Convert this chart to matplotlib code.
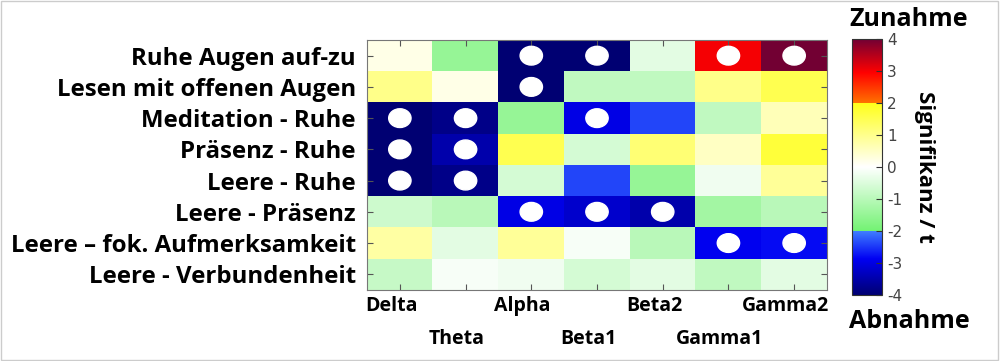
import numpy as np
import matplotlib.pyplot as plt
from matplotlib.colors import LinearSegmentedColormap
from matplotlib.patches import Ellipse, Rectangle

plt.rcParams['axes.unicode_minus'] = False

# Daten
bands = ['Delta', 'Theta', 'Alpha', 'Beta1', 'Beta2', 'Gamma1', 'Gamma2']
contrasts = ['Ruhe Augen auf-zu', 'Lesen mit offenen Augen', 'Meditation - Ruhe',
             'Präsenz - Ruhe', 'Leere - Ruhe', 'Leere - Präsenz',
             'Leere \u2013 fok. Aufmerksamkeit', 'Leere - Verbundenheit']
t_values = [
    [0.2, -1.5, -4.0, -4.0, -0.4, 3.0, 4.0],
    [1.0, 0.2, -4.0, -0.9, -0.9, 1.0, 1.5],
    [-4.0, -3.8, -1.5, -3.0, -2.4, -0.9, 0.6],
    [-4.0, -3.5, 1.5, -0.6, 1.2, 0.5, 1.7],
    [-4.0, -3.8, -0.6, -2.4, -1.5, -0.2, 0.9],
    [-0.7, -1.0, -3.0, -3.2, -3.5, -1.3, -1.0],
    [0.8, -0.4, 0.9, -0.1, -1.0, -2.9, -2.8],
    [-0.8, -0.1, -0.2, -0.6, -0.4, -0.9, -0.4],
]
# signifikante Zellen (Zeile, Spalte)
sig_rows = [0, 0, 0, 0, 1, 2, 2, 2, 3, 3, 4, 4, 5, 5, 5, 6, 6]
sig_cols = [2, 3, 5, 6, 2, 0, 1, 3, 0, 1, 0, 1, 2, 3, 4, 5, 6]
cbar_ticks = [-4, -3, -2, -1, 0, 1, 2, 3, 4]

# Farbskala mit Sprüngen bei +-2
e = 1e-4
cmap = LinearSegmentedColormap.from_list('sig', [
    (0.0, (0.0, 0.0, 0.45)),
    (0.14, (0.0, 0.0, 0.95)),
    (0.25 - e, (0.25, 0.5, 1.0)),
    (0.25, (0.45, 0.95, 0.45)),
    (0.5, (1.0, 1.0, 1.0)),
    (0.75 - e, (1.0, 1.0, 0.1)),
    (0.75, (1.0, 0.45, 0.0)),
    (0.87, (1.0, 0.0, 0.0)),
    (1.0, (0.45, 0.0, 0.2)),
])

data = np.array(t_values)
font = 'Open Sans'

fig = plt.figure(figsize=(10, 3.61), dpi=100)
ax = fig.add_axes([0.367, 0.197, 0.46, 0.692])
im = ax.imshow(data, cmap=cmap, vmin=-4, vmax=4, aspect='auto')

for r, c in zip(sig_rows, sig_cols):
    ax.add_patch(Ellipse((c, r), 0.34, 0.6, color='white', zorder=3))

ax.set_xticks(range(len(bands)))
ax.set_xticklabels([])
ax.set_yticks(range(len(contrasts)))
ax.set_yticklabels(contrasts, fontsize=17.3, fontweight='bold', family=font)
ax.tick_params(axis='both', direction='in', top=True, right=True, length=4,
               color='#555555')
ax.tick_params(axis='y', pad=8)
for i, b in enumerate(bands):
    off = -0.025 if i % 2 == 0 else -0.155
    ax.text(i - 0.13, off, b, transform=ax.get_xaxis_transform(), ha='center',
            va='top', fontsize=14, fontweight='bold', family=font)
for s in ax.spines.values():
    s.set_color('#777777')

cax = fig.add_axes([0.852, 0.182, 0.03, 0.71])
cb = fig.colorbar(im, cax=cax, ticks=cbar_ticks)
cb.outline.set_color('#333333')
cax.tick_params(direction='in', length=4, labelsize=11, labelcolor='#444444',
                color='#333333')
cb.set_label('Signifikanz / t', rotation=-90, fontsize=16, fontweight='bold',
             family=font, labelpad=24)
fig.text(0.909, 0.945, 'Zunahme', ha='center', va='center', fontsize=18,
         fontweight='bold', family=font)
fig.text(0.909, 0.11, 'Abnahme', ha='center', va='center', fontsize=18,
         fontweight='bold', family=font)

fig.patches.append(Rectangle((0.001, 0.002), 0.997, 0.995, transform=fig.transFigure,
                             fill=False, edgecolor='#cccccc', lw=1))

fig.savefig('out.png', dpi=100)
